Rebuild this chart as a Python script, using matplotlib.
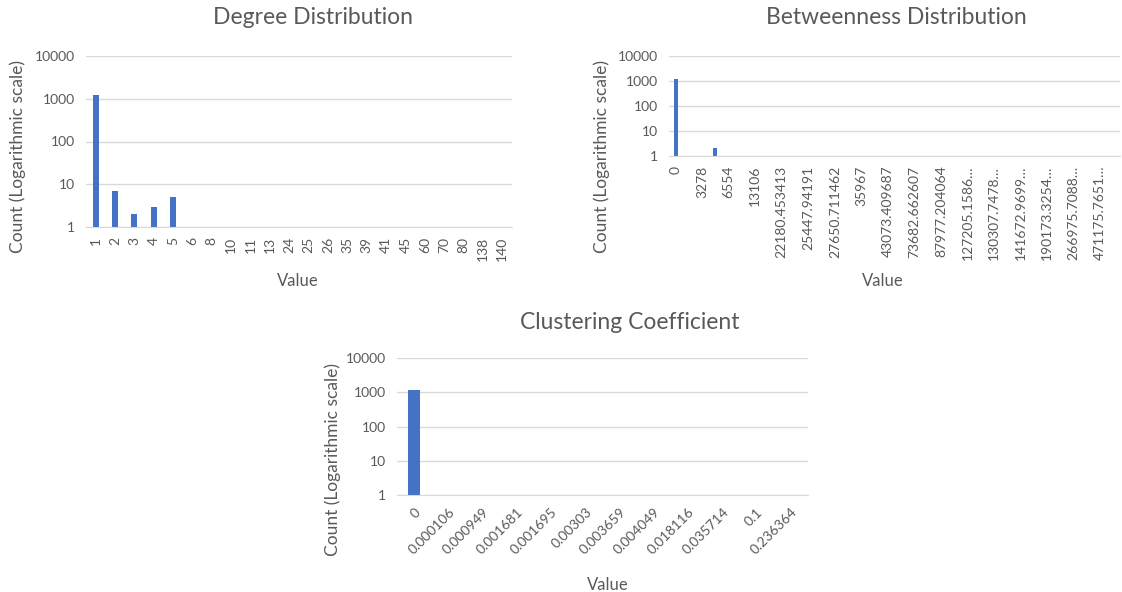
import matplotlib
matplotlib.use("Agg")
import matplotlib.pyplot as plt
import numpy as np

plt.rcParams['font.family'] = ['Lato', 'DejaVu Sans']

# degree distribution
degree_values = ['1', '2', '3', '4', '5', '6', '8', '10', '11', '13', '24', '25', '26',
                 '35', '39', '41', '45', '60', '70', '80', '138', '140']
degree_counts = [1200, 7, 2, 3, 5, 1, 1, 1, 1, 1, 1, 1, 1, 1, 1, 1, 1, 1, 1, 1, 1, 1]

# betweenness distribution (only every other category is labelled in the picture)
betw_labels = ['0', '3278', '6554', '13106', '22180.453413', '25447.94191', '27650.711462',
               '35967', '43073.409687', '73682.662607', '87977.204064', '127205.1586…',
               '130307.7478…', '141672.9699…', '190173.3254…', '266975.7088…', '471175.7651…']
betw_counts = [1200, 1, 1, 2, 1, 1, 1, 1, 1, 1, 1, 1, 1, 1, 1, 1, 1,
               1, 1, 1, 1, 1, 1, 1, 1, 1, 1, 1, 1, 1, 1, 1, 1, 1]

# clustering coefficient
clust_values = ['0', '0.000106', '0.000949', '0.001681', '0.001695', '0.00303', '0.003659',
                '0.004049', '0.018116', '0.035714', '0.1', '0.236364']
clust_counts = [1200, 1, 1, 1, 1, 1, 1, 1, 1, 1, 1, 1]

bar_color = '#4472C4'
text_color = '#595959'
grid_color = '#D9D9D9'

W, H = 1122, 592
fig = plt.figure(figsize=(W / 100, H / 100), dpi=100)


def px_axes(x0, y0, x1, y1):
    return fig.add_axes([x0 / W, 1 - y1 / H, (x1 - x0) / W, (y1 - y0) / H])


def style(ax, n):
    ax.set_yscale('log')
    ax.set_ylim(1, 10000)
    ax.set_xlim(-0.5, n - 0.5)
    ax.set_yticks([1, 10, 100, 1000, 10000])
    ax.set_yticklabels(['1', '10', '100', '1000', '10000'])
    ax.yaxis.set_minor_locator(matplotlib.ticker.NullLocator())
    ax.grid(axis='y', color=grid_color, linewidth=1)
    ax.set_axisbelow(True)
    for s in ['top', 'right', 'left']:
        ax.spines[s].set_visible(False)
    ax.spines['bottom'].set_color(grid_color)
    ax.tick_params(length=0, colors=text_color, labelsize=10)
    ax.tick_params(axis='y', pad=8)


def text(x, y, s, **kw):
    fig.text(x / W, 1 - y / H, s, color=text_color, ha='center', va='center', **kw)


# chart 1
ax1 = px_axes(86, 56, 512, 227)
x = np.arange(len(degree_values))
ax1.bar(x, degree_counts, width=0.31, color=bar_color)
style(ax1, len(degree_values))
ax1.set_xticks(x)
ax1.set_xticklabels(degree_values, rotation=90)
ax1.tick_params(axis='x', pad=7)
text(313, 18, 'Degree Distribution', fontsize=16.5)
text(18, 157, 'Count (Logarithmic scale)', fontsize=12.5, rotation=90)
text(298, 281, 'Value', fontsize=12)

# chart 2
ax2 = px_axes(669, 56, 1120, 156)
x = np.arange(len(betw_counts))
ax2.bar(x, betw_counts, width=0.31, color=bar_color)
style(ax2, len(betw_counts))
ax2.set_xticks(x[::2])
ax2.set_xticklabels(betw_labels, rotation=90)
ax2.tick_params(axis='x', pad=7)
text(896, 18, 'Betweenness Distribution', fontsize=16.5)
text(602, 157, 'Count (Logarithmic scale)', fontsize=12.5, rotation=90)
text(883, 281, 'Value', fontsize=12)

# chart 3
ax3 = px_axes(397, 358, 808, 495)
x = np.arange(len(clust_values))
ax3.bar(x, clust_counts, width=0.33, color=bar_color)
style(ax3, len(clust_values))
ax3.set_xticks(x)
ax3.set_xticklabels(clust_values, rotation=45, ha='right', rotation_mode='anchor')
ax3.tick_params(axis='x', pad=8)
text(630, 322, 'Clustering Coefficient', fontsize=16.5)
text(333, 459, 'Count (Logarithmic scale)', fontsize=12.5, rotation=90)
text(608, 585, 'Value', fontsize=12)

fig.savefig('out.png', dpi=100)
